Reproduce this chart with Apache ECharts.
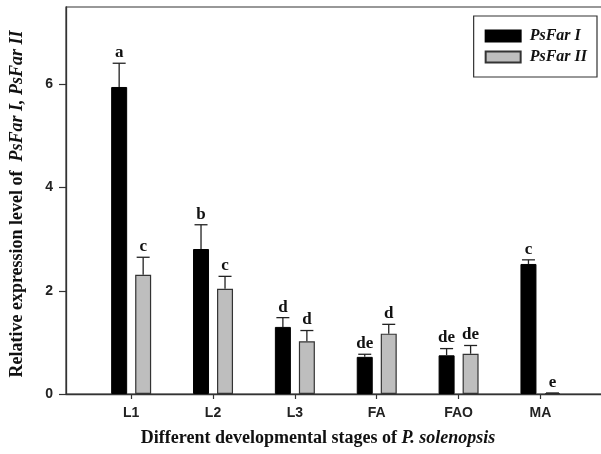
<!DOCTYPE html>
<html>
<head>
<meta charset="utf-8">
<script src="https://cdn.jsdelivr.net/npm/echarts@6/dist/echarts.min.js"></script>
<style>html,body{margin:0;padding:0;background:#fff;}#c{width:601px;height:454px;}</style>
</head>
<body>
<div id="c"></div>
<script>
const categories = ['L1', 'L2', 'L3', 'FA', 'FAO', 'MA'];
const psFarI = [5.95, 2.81, 1.30, 0.72, 0.75, 2.52];
const psFarIErr = [0.46, 0.47, 0.18, 0.05, 0.13, 0.08];
const psFarILetters = ['a', 'b', 'd', 'de', 'de', 'c'];
const psFarII = [2.31, 2.04, 1.02, 1.17, 0.78, 0.02];
const psFarIIErr = [0.34, 0.24, 0.21, 0.18, 0.16, 0.0];
const psFarIILetters = ['c', 'c', 'd', 'd', 'de', 'e'];
const yTicks = [0, 2, 4, 6];

const positions = categories.map((c, i) => i + 1);
const serif = '"Liberation Serif", "Times New Roman", serif';
const sans = '"Liberation Sans", Arial, sans-serif';

function errRenderer(offset, letters) {
  return function (params, api) {
    const x = api.value(0), v = api.value(1), e = api.value(2);
    const base = api.coord([x, v]);
    const top = api.coord([x, v + e]);
    const cx = base[0] + offset;
    const st = { stroke: '#222', lineWidth: 1.3 };
    return {
      type: 'group',
      children: [
        { type: 'line', shape: { x1: cx, y1: base[1], x2: cx, y2: top[1] }, style: st },
        { type: 'line', shape: { x1: cx - 6.5, y1: top[1], x2: cx + 6.5, y2: top[1] }, style: st },
        { type: 'text', x: cx, y: top[1] - 2, style: {
            text: letters[params.dataIndex], fill: '#111',
            font: 'bold 17px ' + serif, align: 'center', verticalAlign: 'bottom' } }
      ]
    };
  };
}

const chart = echarts.init(document.getElementById('c'), null, { renderer: 'canvas' });
chart.setOption({
  animation: false,
  backgroundColor: '#fff',
  grid: { left: 66, right: -2, top: 7, bottom: 60, show: true, borderColor: '#333', borderWidth: 1.2,
    containLabel: false, outerBoundsMode: 'none' },
  legend: {
    orient: 'vertical', right: 4, top: 16,
    borderColor: '#333', borderWidth: 1.2, padding: [12, 10, 12, 11],
    itemWidth: 35, itemHeight: 11, itemGap: 5,
    icon: 'rect',
    textStyle: { fontFamily: serif, fontWeight: 'bold', fontStyle: 'italic', fontSize: 16, color: '#111', padding: [0, 0, 0, 4] },
    data: ['PsFar I', 'PsFar II']
  },
  xAxis: {
    type: 'value', min: 0.204, max: 6.764,
    name: 'Different developmental stages of {i|P. solenopsis}',
    nameLocation: 'middle', nameGap: 35,
    nameTextStyle: { fontFamily: serif, fontWeight: 'bold', fontSize: 18, color: '#111', padding: [0, 33, 0, 0],
      rich: { i: { fontFamily: serif, fontWeight: 'bold', fontStyle: 'italic', fontSize: 18, color: '#111' } } },
    axisLine: { show: true, lineStyle: { color: '#333', width: 1.3 } },
    axisTick: { show: true, customValues: positions, length: 5, lineStyle: { color: '#333', width: 1.2 } },
    axisLabel: { customValues: positions, formatter: v => categories[Math.round(v) - 1] || '',
      fontFamily: sans, fontWeight: 'bold', fontSize: 14, color: '#222', margin: 12 },
    splitLine: { show: false }
  },
  yAxis: {
    type: 'value', min: 0, max: 7.5,
    name: 'Relative expression level of  {i|PsFar I, PsFar II}',
    nameLocation: 'middle', nameGap: 40, nameRotate: 90,
    nameTextStyle: { fontFamily: serif, fontWeight: 'bold', fontSize: 18, color: '#111', padding: [0, 7, 0, 0],
      rich: { i: { fontFamily: serif, fontWeight: 'bold', fontStyle: 'italic', fontSize: 18, color: '#111' } } },
    axisLine: { show: true, lineStyle: { color: '#333', width: 1.3 } },
    axisTick: { show: true, customValues: yTicks, length: 7, lineStyle: { color: '#333', width: 1.2 } },
    axisLabel: { customValues: yTicks, fontFamily: sans, fontWeight: 'bold', fontSize: 14, color: '#222', margin: 13 },
    splitLine: { show: false }
  },
  series: [
    { name: 'PsFar I', type: 'bar', barWidth: 16, barGap: '50%',
      itemStyle: { color: '#000', borderColor: '#000', borderWidth: 1 },
      data: psFarI.map((v, i) => [positions[i], v]) },
    { name: 'PsFar II', type: 'bar', barWidth: 16, barGap: '50%',
      itemStyle: { color: '#bebebe', borderColor: '#333', borderWidth: 1.2 },
      data: psFarII.map((v, i) => [positions[i], v]) },
    { type: 'custom', renderItem: errRenderer(-12, psFarILetters), z: 5, silent: true,
      data: psFarI.map((v, i) => [positions[i], v, psFarIErr[i]]) },
    { type: 'custom', renderItem: errRenderer(12, psFarIILetters), z: 5, silent: true,
      data: psFarII.map((v, i) => [positions[i], v, psFarIIErr[i]]) }
  ]
});
</script>
</body>
</html>
